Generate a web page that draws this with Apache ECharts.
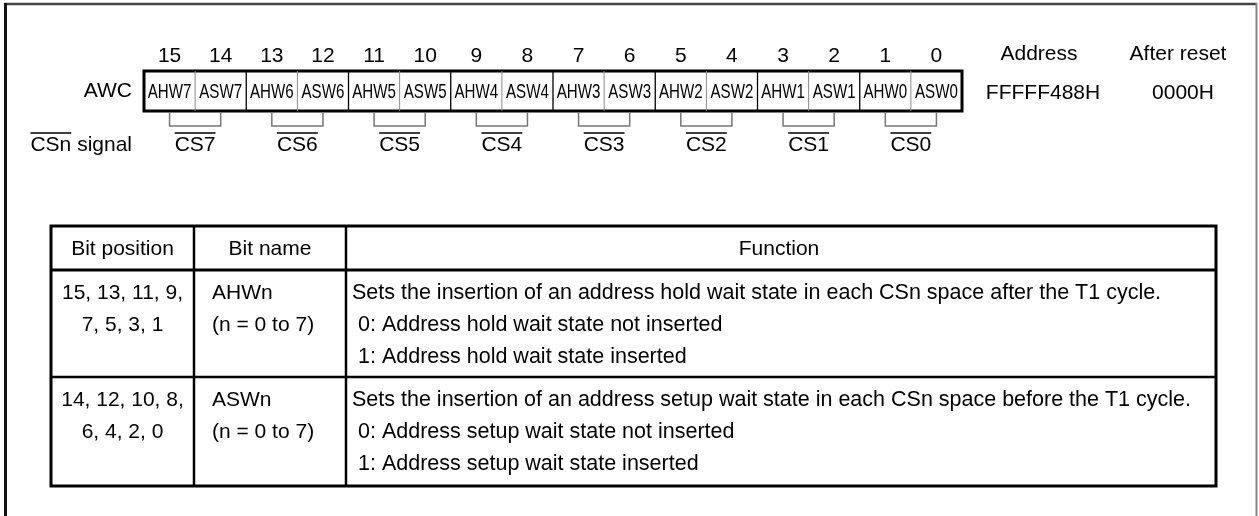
<!DOCTYPE html>
<html><head><meta charset="utf-8">
<script src="https://cdn.jsdelivr.net/npm/echarts@6/dist/echarts.min.js"></script>
<style>html,body{margin:0;padding:0;background:#fff}#c{width:1259px;height:516px}</style>
</head><body><div id="c"></div>
<script>
// ---- data ----
const bitNumbers = ['15','14','13','12','11','10','9','8','7','6','5','4','3','2','1','0'];
const bitNames = ['AHW7','ASW7','AHW6','ASW6','AHW5','ASW5','AHW4','ASW4','AHW3','ASW3','AHW2','ASW2','AHW1','ASW1','AHW0','ASW0'];
const csLabels = ['CS7','CS6','CS5','CS4','CS3','CS2','CS1','CS0'];
const registerName = 'AWC';
const signalName = 'CSn';
const signalSuffix = ' signal';
const addressInfo = ['Address', 'FFFFF488H'];
const resetInfo = ['After reset', '0000H'];
const tableHeaders = ['Bit position', 'Bit name', 'Function'];
const bitPositions = [['15, 13, 11, 9,', '7, 5, 3, 1'], ['14, 12, 10, 8,', '6, 4, 2, 0']];
const bitNameCells = [['AHWn', '(n = 0 to 7)'], ['ASWn', '(n = 0 to 7)']];
const functionLines = [
  ['Sets the insertion of an address hold wait state in each CSn space after the T1 cycle.',
   '0: Address hold wait state not inserted',
   '1: Address hold wait state inserted'],
  ['Sets the insertion of an address setup wait state in each CSn space before the T1 cycle.',
   '0: Address setup wait state not inserted',
   '1: Address setup wait state inserted']
];

// ---- styling / layout ----
const FONT = "'Liberation Sans', Arial, Helvetica, sans-serif";
const FS = 21;
const FONTSTR = FS + 'px ' + FONT;
const FONTFN = '21.5px ' + FONT;
const mctx = document.createElement('canvas').getContext('2d');
mctx.font = FONTSTR;
const tw = t => mctx.measureText(t).width;

const REG = {left: 144, top: 71, width: 818, height: 40};
const TB = {x0: 51, x1: 1216, y0: 226, yh: 270, ys: [377, 486], c1: 194, c2: 346};
const rowTextOff = [23, 55, 87];

function txt(x, y, text, align, font) {
  return {type: 'text', x: x, y: y, silent: true,
    style: {text: text, fill: '#000', font: font || FONTSTR, textAlign: align || 'left', textVerticalAlign: 'middle'}};
}
function ln(x1, y1, x2, y2, w, c) {
  return {type: 'line', silent: true, shape: {x1, y1, x2, y2}, style: {stroke: c || '#000', lineWidth: w}};
}

const graphics = [];
// frame
graphics.push(ln(4, 4, 1257, 4, 2.5, '#444'));
graphics.push(ln(5.5, 3, 5.5, 516, 3, '#111'));
graphics.push(ln(1256.5, 3, 1256.5, 516, 2, '#888'));

// CSn signal label (with overline on CSn)
const sigRight = REG.left - 12;
const sigW = tw(signalName + signalSuffix);
graphics.push(txt(sigRight, 145, signalName + signalSuffix, 'right'));
graphics.push(ln(sigRight - sigW, 133, sigRight - sigW + tw(signalName), 133, 1.3));

// Address / After reset
graphics.push(txt(1039, 54, addressInfo[0], 'center'));
graphics.push(txt(1043, 93, addressInfo[1], 'center'));
graphics.push(txt(1178, 54, resetInfo[0], 'center'));
graphics.push(txt(1183, 93, resetInfo[1], 'center'));

// table
const rowTops = [TB.yh, TB.ys[0]];
graphics.push({type: 'rect', silent: true, shape: {x: TB.x0, y: TB.y0, width: TB.x1 - TB.x0, height: TB.ys[1] - TB.y0},
  style: {fill: 'none', stroke: '#000', lineWidth: 3}});
graphics.push(ln(TB.x0, TB.yh, TB.x1, TB.yh, 3));
graphics.push(ln(TB.x0, TB.ys[0], TB.x1, TB.ys[0], 2.5));
graphics.push(ln(TB.c1, TB.y0, TB.c1, TB.ys[1], 2.5));
graphics.push(ln(TB.c2, TB.y0, TB.c2, TB.ys[1], 2.5));
const hy = (TB.y0 + TB.yh) / 2 + 1;
graphics.push(txt((TB.x0 + TB.c1) / 2, hy, tableHeaders[0], 'center'));
graphics.push(txt((TB.c1 + TB.c2) / 2, hy, tableHeaders[1], 'center'));
graphics.push(txt((TB.c2 + TB.x1) / 2 - 2, hy, tableHeaders[2], 'center'));
for (let r = 0; r < 2; r++) {
  const t = rowTops[r];
  bitPositions[r].forEach((s, k) => graphics.push(txt((TB.x0 + TB.c1) / 2, t + rowTextOff[k], s, 'center')));
  bitNameCells[r].forEach((s, k) => graphics.push(txt(TB.c1 + 18, t + rowTextOff[k], s, 'left')));
  functionLines[r].forEach((s, k) => graphics.push(txt(TB.c2 + (k === 0 ? 6 : 12), t + rowTextOff[k], s, 'left', FONTFN)));
}

const chart = echarts.init(document.getElementById('c'), null, {renderer: 'canvas'});
chart.setOption({
  animation: false,
  backgroundColor: '#fff',
  textStyle: {fontFamily: FONT},
  grid: {left: REG.left, top: REG.top, width: REG.width, height: REG.height, show: true,
    borderColor: '#000', borderWidth: 3, backgroundColor: 'transparent', outerBoundsMode: 'none'},
  xAxis: {type: 'category', data: bitNumbers, position: 'top',
    axisLine: {show: false}, axisTick: {show: false}, splitLine: {show: false},
    axisLabel: {interval: 0, margin: 4, fontSize: FS, color: '#000', fontFamily: FONT}},
  yAxis: {type: 'category', data: [registerName],
    axisLine: {show: false}, axisTick: {show: false}, splitLine: {show: false},
    axisLabel: {margin: 12, fontSize: FS, color: '#000', fontFamily: FONT}},
  series: [
    {
      type: 'custom', name: 'cells', silent: true,
      data: bitNames.map((n, i) => [i, 0]),
      encode: {x: 0, y: 1},
      renderItem: function (params, api) {
        const i = api.value(0);
        const c = api.coord([i, 0]);
        const s = api.size([1, 1]);
        const left = c[0] - s[0] / 2, top = c[1] - s[1] / 2;
        const children = [{
          type: 'text', x: c[0], y: c[1] + 1, scaleX: 0.72,
          style: {text: bitNames[params.dataIndex], fill: '#000', font: FONTSTR,
            textAlign: 'center', textVerticalAlign: 'middle'}
        }];
        if (i > 0) {
          const inner = i % 2 === 1;
          children.push({type: 'line', shape: {x1: left, y1: top, x2: left, y2: top + s[1]},
            style: {stroke: inner ? '#8a8a8a' : '#000', lineWidth: inner ? 1 : 1.3}});
        }
        return {type: 'group', children: children};
      }
    },
    {
      type: 'custom', name: 'signals', silent: true,
      data: csLabels.map((l, p) => [2 * p, 0]),
      encode: {x: 0, y: 1},
      renderItem: function (params, api) {
        const p = params.dataIndex;
        const c1 = api.coord([2 * p, 0]);
        const c2 = api.coord([2 * p + 1, 0]);
        const s = api.size([1, 1]);
        const bottom = c1[1] + s[1] / 2 + 1;
        const mid = (c1[0] + c2[0]) / 2;
        const w = tw(csLabels[p]);
        return {type: 'group', children: [
          {type: 'polyline', shape: {points: [[c1[0], bottom], [c1[0], bottom + 14], [c2[0], bottom + 14], [c2[0], bottom]]},
            style: {stroke: '#777', lineWidth: 1.5, fill: 'none'}},
          {type: 'text', x: mid, y: bottom + 33,
            style: {text: csLabels[p], fill: '#000', font: FONTSTR, textAlign: 'center', textVerticalAlign: 'middle'}},
          {type: 'line', shape: {x1: mid - w / 2, y1: bottom + 21, x2: mid + w / 2, y2: bottom + 21},
            style: {stroke: '#000', lineWidth: 1.3}}
        ]};
      }
    }
  ],
  graphic: graphics
});
</script>
</body></html>
